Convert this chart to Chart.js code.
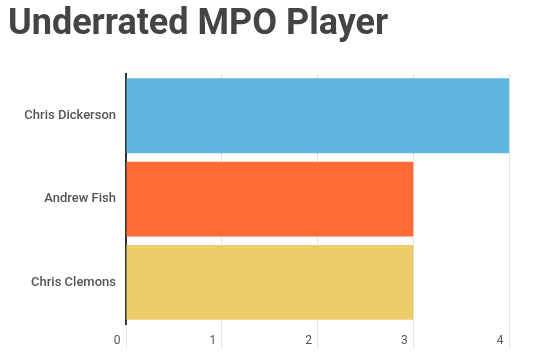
<!DOCTYPE html>
<html><head><meta charset="utf-8">
<script src="https://cdn.jsdelivr.net/npm/chart.js@4"></script>
<style>html,body{margin:0;padding:0;background:#fff}#w{width:539px;height:358px}</style>
</head><body><div id="w"><canvas id="c"></canvas></div>
<script>
const categories = ["Chris Dickerson", "Andrew Fish", "Chris Clemons"];
const values = [4, 3, 3];
const barColors = ["#5DB6E0", "#FF6B37", "#EDCD6B"];
const xTicks = [0, 1, 2, 3, 4];

new Chart(document.getElementById('c'), {
  type: 'bar',
  data: { labels: categories, datasets: [{ data: values, backgroundColor: barColors, barPercentage: 0.9, categoryPercentage: 1 }] },
  options: {
    indexAxis: 'y', responsive: true, maintainAspectRatio: false, animation: false,
    layout: { padding: { left: 8, right: 30, bottom: 0, top: 0 } },
    plugins: {
      legend: { display: false }, tooltip: { enabled: false },
      title: { display: true, text: 'Underrated MPO Player', align: 'start', color: '#444',
        font: { family: 'Roboto', size: 36, weight: 'bold' }, padding: { top: 3, bottom: 28 } }
    },
    scales: {
      x: { min: 0, max: 4, afterBuildTicks: s => { s.ticks = xTicks.map(v => ({ value: v })); },
        afterFit: s => { s.height = 34; },
        grid: { color: '#e2e2e2', tickLength: 24, drawTicks: true },
        border: { display: false },
        ticks: { color: '#555', font: { family: 'Roboto', size: 12 }, padding: -14, labelOffset: -9, autoSkip: false, maxRotation: 0 } },
      y: { grid: { display: false }, border: { color: '#333', width: 2 },
        afterFit: s => { s.width = 118; },
        ticks: { color: '#555', font: { family: 'Roboto', size: 13, weight: '500' }, padding: 2 } }
    }
  }
});
</script></body></html>
